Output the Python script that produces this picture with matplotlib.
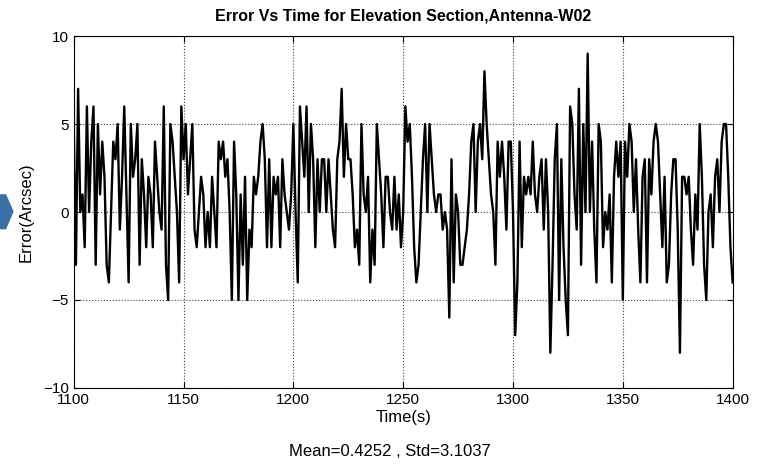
import numpy as np
import matplotlib
matplotlib.use('Agg')
import matplotlib.pyplot as plt
from matplotlib.patches import Polygon

plt.rcParams['font.family'] = ['Liberation Sans', 'DejaVu Sans']

# error samples, one per second from 1100 s to 1400 s
time_s = np.arange(1100, 1401)
error_arcsec = [
    5, -3, 7, 0, 1, -2, 6, 0, 4, 6,
    -3, 5, 1, 4, 2, -3, -4, 0, 4, 3,
    5, -1, 2, 6, 1, -4, 5, 2, 3, 5,
    -3, 3, 1, -2, 2, 1, -2, 4, 2, 0,
    -1, 6, -3, -5, 5, 4, 2, 0, -4, 6,
    3, 5, 1, 3, 5, -1, -2, 0, 2, 1,
    -2, 0, -2, 2, 0, -2, 4, 3, 4, 2,
    3, 0, -5, 4, 1, -5, 1, -3, 2, -5,
    -1, -2, 2, 1, 2, 4, 5, 3, -2, 3,
    -2, 2, 1, 2, -2, 3, 1, 0, -1, 1,
    5, 0, -4, 6, 4, 2, 6, 0, 5, 3,
    -2, 3, 0, 3, 3, 0, 3, 1, -1, -2,
    3, 4, 7, 2, 5, 3, 3, 1, -2, -1,
    -3, 5, 1, 0, 2, -4, -1, -3, 5, 3,
    1, -2, 2, 2, 0, -1, 2, -1, 1, -2,
    0, 6, 4, 5, 2, -2, -4, -3, 0, 3,
    5, 0, 5, 3, 1, 0, 1, 1, -1, 0,
    -1, -6, 3, -4, 1, 0, -3, -3, -2, -1,
    1, 4, 5, 0, 4, 5, 3, 8, 5, 3,
    1, 0, -3, 4, 2, 4, 2, -1, 4, 4,
    0, -7, -4, 4, -2, 2, 1, 2, 1, 4,
    1, 0, 2, 3, -1, 3, 0, -8, -3, 3,
    5, -5, 3, -2, -5, -7, 6, 5, 1, -1,
    7, -3, 5, 0, 9, 0, 4, -1, -4, 5,
    4, -2, 0, -1, 1, -4, 2, 4, 2, 4,
    -5, 4, 2, 5, 4, 0, 3, -1, -4, 2,
    3, -4, 3, 1, 4, 5, 4, 1, -2, 2,
    -4, -3, 1, 3, 3, -1, -8, 2, 2, 1,
    2, -1, -3, 1, -1, 5, 2, -3, -5, 0,
    1, -2, 2, 3, 0, 4, 5, 5, 2, -2,
    -4,
]
x_ticks = [1100, 1150, 1200, 1250, 1300, 1350, 1400]
y_ticks = [-10, -5, 0, 5, 10]
stats_text = 'Mean=0.4252 , Std=3.1037'

fig = plt.figure(figsize=(7.6, 4.68), dpi=100)
ax = fig.add_axes([0.097, 0.171, 0.867, 0.752])

ax.plot(time_s, error_arcsec, color='black', linewidth=1.7)
ax.set_xlim(1100, 1400)
ax.set_ylim(-10, 10)
ax.set_xticks(x_ticks)
ax.set_yticks(y_ticks)
ax.grid(True, linestyle=':', color='#444444', linewidth=0.8)
ax.tick_params(direction='in', top=True, right=True, labelsize=11, length=4)
for s in ax.spines.values():
    s.set_linewidth(0.8)

ax.set_title('Error Vs Time for Elevation Section,Antenna-W02',
             fontsize=11.5, fontweight='bold', pad=11)
ax.set_xlabel('Time(s)', fontsize=12, labelpad=2)
ax.set_ylabel('Error(Arcsec)', fontsize=12, labelpad=7)
fig.text(0.513, 0.035, stats_text, ha='center', va='center', fontsize=12)

# blue arrow marker on the left edge
arrow = Polygon([[0.0, 0.585], [0.008, 0.585], [0.018, 0.548], [0.008, 0.51], [0.0, 0.51]],
                closed=True, transform=fig.transFigure, facecolor='#3a6ea5', edgecolor='none')
fig.patches.append(arrow)

fig.savefig('out.png', dpi=100)
